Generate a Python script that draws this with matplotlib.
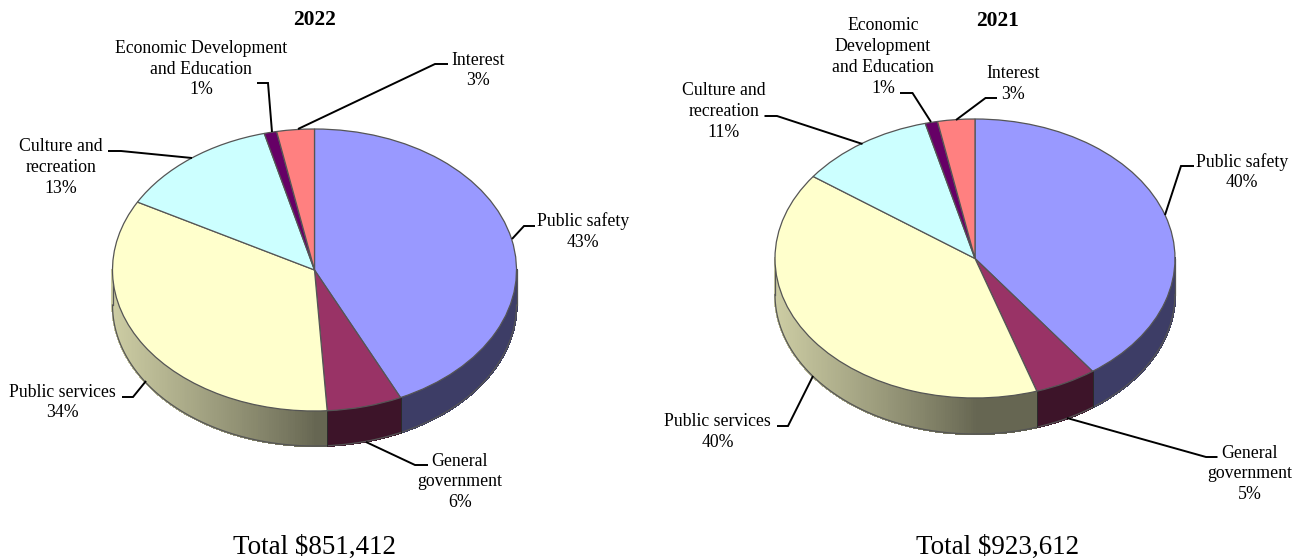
import numpy as np
import matplotlib
matplotlib.use("Agg")
import matplotlib.pyplot as plt
from matplotlib.collections import PolyCollection

W, H = 1299, 559
SERIF = "Liberation Serif"

categories = ["Public safety", "General government", "Public services",
              "Culture and recreation", "Economic Development and Education", "Interest"]
shares_2022 = [43, 6, 34, 13, 1, 3]
shares_2021 = [40, 5, 40, 11, 1, 3]
slice_colors = ["#9999FF", "#993366", "#FFFFCC", "#CCFFFF", "#660066", "#FF8080"]
title_2022, total_2022 = "2022", "Total $851,412"
title_2021, total_2021 = "2021", "Total $923,612"


def hex_rgb(code):
    return np.array(matplotlib.colors.to_rgb(code))


def draw_pie(fig, shares, cx, cy, rx, ry, depth_px):
    """Tilted pie: an ellipse-squashed ax.pie on top of a shaded side wall."""
    margin = 1.06
    depth = depth_px / ry
    x0, x1 = -margin, margin
    y0, y1 = -margin - depth, margin
    left = (cx + x0 * rx) / W
    bottom = 1 - (cy - y0 * ry) / H
    ax = fig.add_axes([left, bottom, (x1 - x0) * rx / W, (y1 - y0) * ry / H])

    ax.pie(shares, colors=slice_colors, startangle=90, counterclock=False, radius=1,
           wedgeprops=dict(edgecolor="#555555", linewidth=0.9, zorder=3))
    ax.set_aspect("auto")
    ax.set_xlim(x0, x1)
    ax.set_ylim(y0, y1)
    ax.axis("off")

    # Side wall: only the front half of the rim is visible.
    edges = 90 - 360 * np.cumsum([0] + list(shares)) / sum(shares)
    polys, fills = [], []
    for a, b, code in zip(edges[:-1], edges[1:], slice_colors):
        start, stop = min(a, 0), max(b, -180)
        if start <= stop:
            continue
        t = np.radians(np.linspace(start, stop, max(2, int((start - stop) * 1.5))))
        for t0, t1 in zip(t[:-1], t[1:]):
            polys.append([(np.cos(t0), np.sin(t0)), (np.cos(t1), np.sin(t1)),
                          (np.cos(t1), np.sin(t1) - depth), (np.cos(t0), np.sin(t0) - depth)])
            # Light falls from the left: the wall darkens towards the front.
            mid = np.cos((t0 + t1) / 2)
            fills.append(hex_rgb(code) * (0.40 + 0.40 * np.clip(-mid, 0, 1) ** 0.9))
    ax.add_collection(PolyCollection(polys, facecolors=fills, edgecolors=fills,
                                     linewidths=1.0, antialiaseds=False, zorder=1))

    t = np.radians(np.linspace(0, -180, 300))
    ax.plot(np.cos(t), np.sin(t) - depth, color="#555555", lw=0.9, zorder=2)
    for side in (-1, 1):
        ax.plot([side, side], [0, -depth], color="#555555", lw=0.9, zorder=2)
    for e in edges[:-1]:
        if -180 < e < 0:
            c, s = np.cos(np.radians(e)), np.sin(np.radians(e))
            ax.plot([c, c], [s, s - depth], color="#2a2a2a", lw=0.7, zorder=2)
    return ax


fig = plt.figure(figsize=(W / 100, H / 100), dpi=100, facecolor="white")

draw_pie(fig, shares_2022, 314.5, 270, 202, 141, 35)
draw_pie(fig, shares_2021, 975, 258.5, 200, 139.5, 36)

# Overlay in pixel units for captions and leader lines
overlay = fig.add_axes([0, 0, 1, 1], zorder=10)
overlay.set_xlim(0, W)
overlay.set_ylim(H, 0)
overlay.axis("off")


def caption(x, y, body, size=17.7, weight="normal"):
    overlay.text(x, y + 1, body, ha="center", va="center", family=SERIF, color="black",
                 fontsize=size * 0.72, fontweight=weight, linespacing=1.29)


def leader(*points):
    xs, ys = zip(*points)
    overlay.plot(xs, ys, color="black", lw=1.4, solid_joinstyle="miter", solid_capstyle="butt")


def pct(value):
    return f"{value}%"


# 2022 panel
caption(314.5, 19, title_2022, size=21.5, weight="bold")
caption(314.5, 546, total_2022, size=27)
caption(201, 68, f"Economic Development\nand Education\n{pct(shares_2022[4])}")
leader((257, 83), (268, 83), (272, 132))
caption(478, 69.5, f"Interest\n{pct(shares_2022[5])}")
leader((448, 64), (435, 64), (298, 129))
caption(583, 230.5, f"Public safety\n{pct(shares_2022[0])}")
leader((535, 226), (524, 226), (512, 239))
caption(61, 166.5, f"Culture and\nrecreation\n{pct(shares_2022[3])}")
leader((108, 151), (121, 151), (192, 158))
caption(62, 401.5, f"Public services\n{pct(shares_2022[2])}")
leader((122, 397), (133, 397), (146, 381))
caption(460, 481, f"General\ngovernment\n{pct(shares_2022[1])}")
leader((428, 465), (415, 465), (366, 442))

# 2021 panel
caption(997.5, 19.5, title_2021, size=21.5, weight="bold")
caption(998, 546, total_2021, size=27)
caption(883, 56, f"Economic\nDevelopment\nand Education\n{pct(shares_2021[4])}")
leader((900, 93), (912.5, 93), (931, 122))
caption(1013, 83, f"Interest\n{pct(shares_2021[5])}")
leader((997, 98), (985.5, 98), (956, 120))
caption(724, 110.5, f"Culture and\nrecreation\n{pct(shares_2021[3])}")
leader((764.5, 116), (777, 116), (862.5, 144))
caption(1242, 171, f"Public safety\n{pct(shares_2021[0])}")
leader((1194, 166), (1181, 166), (1165, 215))
caption(717.5, 431, f"Public services\n{pct(shares_2021[2])}")
leader((777, 426), (788, 426), (813, 376))
caption(1250, 473, f"General\ngovernment\n{pct(shares_2021[1])}")
leader((1217.5, 457), (1206, 457), (1067, 418))

fig.savefig("out.png", dpi=100, facecolor="white")
